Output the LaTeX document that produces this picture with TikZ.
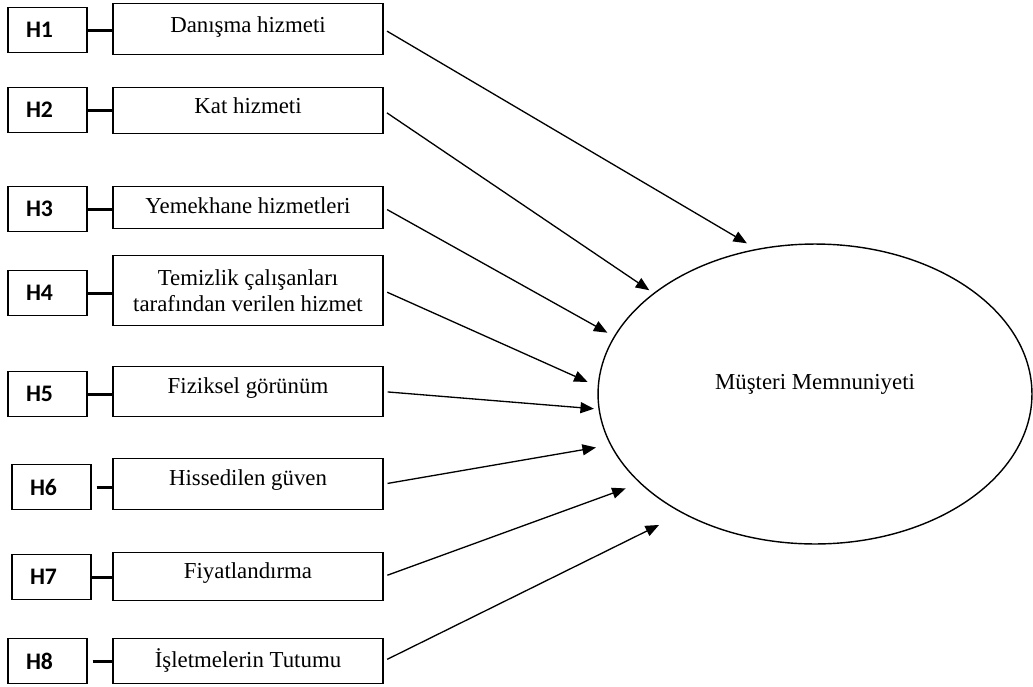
\documentclass[tikz,border=0pt]{standalone}
\usepackage{fontspec}
\setmainfont{Liberation Serif}
\newfontfamily\hfont{Carlito}
\usetikzlibrary{arrows.meta, shapes.geometric}

\tikzset{
  hbox/.style={draw, line width=0.7pt, minimum width=1.58cm, minimum height=0.9cm,
    inner xsep=0.36cm, text width=0.86cm, align=left,
    font=\hfont\bfseries\fontsize{13.5}{16}\selectfont},
  sbox/.style={draw, line width=0.7pt, minimum width=5.4cm, font=\fontsize{13}{15}\selectfont},
  lift/.style 2 args={inner ysep=0pt, text height=#1, text depth=#2},
  tie/.style={line width=1.6pt},
  effect/.style={line width=0.75pt, -{Triangle[length=0.27cm, width=0.22cm]}, shorten <=0.08cm},
}

\begin{document}
\begin{tikzpicture}[x=0.02cm, y=-0.02cm]
  \useasboundingbox (0,0) rectangle (1033,686);

  % Hypothesis labels
  \node[hbox, anchor=north] (h1) at (47.5,7)   {H1};
  \node[hbox, anchor=north] (h2) at (47.5,87)  {H2};
  \node[hbox, anchor=north] (h3) at (47.5,186) {H3};
  \node[hbox, anchor=north] (h4) at (47.5,270) {H4};
  \node[hbox, anchor=north] (h5) at (47.5,371) {H5};
  \node[hbox, anchor=north] (h6) at (51.5,464) {H6};
  \node[hbox, anchor=north] (h7) at (51.5,554) {H7};
  \node[hbox, anchor=north] (h8) at (47.5,638) {H8};

  % Service dimensions
  \node[sbox, lift={0.58cm}{0.44cm}, anchor=north] (s1) at (248,3)   {Danışma hizmeti};
  \node[sbox, lift={0.52cm}{0.40cm}, anchor=north] (s2) at (248,87)  {Kat hizmeti};
  \node[sbox, lift={0.54cm}{0.30cm}, anchor=north] (s3) at (248,186) {Yemekhane hizmetleri};
  \node[sbox, minimum height=1.4cm, align=center, anchor=north] (s4) at (248,255)
    {Temizlik çalışanları\\tarafından verilen hizmet};
  \node[sbox, lift={0.54cm}{0.46cm}, anchor=north] (s5) at (248,366) {Fiziksel görünüm};
  \node[sbox, lift={0.54cm}{0.48cm}, anchor=north] (s6) at (248,458) {Hissedilen güven};
  \node[sbox, lift={0.52cm}{0.44cm}, anchor=north] (s7) at (248,552) {Fiyatlandırma};
  \node[sbox, lift={0.58cm}{0.32cm}, anchor=north] (s8) at (248,638) {İşletmelerin Tutumu};

  % Outcome
  \node[ellipse, draw, line width=0.8pt, minimum width=8.68cm, minimum height=6cm,
    inner sep=0pt, text height=0.3cm, text depth=0.5cm,
    font=\fontsize{13}{15}\selectfont] (m) at (815,394) {Müşteri Memnuniyeti};

  % Label ties
  \draw[tie] (h1) -- (h1 -| s1.west);
  \draw[tie] (h2) -- (h2 -| s2.west);
  \draw[tie] (h3) -- (h3 -| s3.west);
  \draw[tie] (h4) -- (h4 -| s4.west);
  \draw[tie] (h5) -- (h5 -| s5.west);
  \draw[tie, shorten <=0.1cm] (h6) -- (h6 -| s6.west);
  \draw[tie] (h7) -- (h7 -| s7.west);
  \draw[tie, shorten <=0.1cm] (h8) -- (h8 -| s8.west);

  % Effects
  \draw[effect, shorten >=0.22cm] (s1.east) -- (m.112.4);
  \draw[effect, shorten >=0.10cm] (s2.east) -- (m.148.8);
  \draw[effect, shorten >=0.15cm] (s3.east) -- (m.164.3);
  \draw[effect, shorten >=0.22cm] (s4.east) -- (m.178.8);
  \draw[effect, shorten >=0.09cm] (s5.east) -- (m.184.6);
  \draw[effect, shorten >=0.29cm] (s6.east) -- (m.194.2);
  \draw[effect, shorten >=0.30cm] (s7.east) -- (m.207.8);
  \draw[effect, shorten >=0.52cm] (s8.east) -- (m.222.3);
\end{tikzpicture}
\end{document}
